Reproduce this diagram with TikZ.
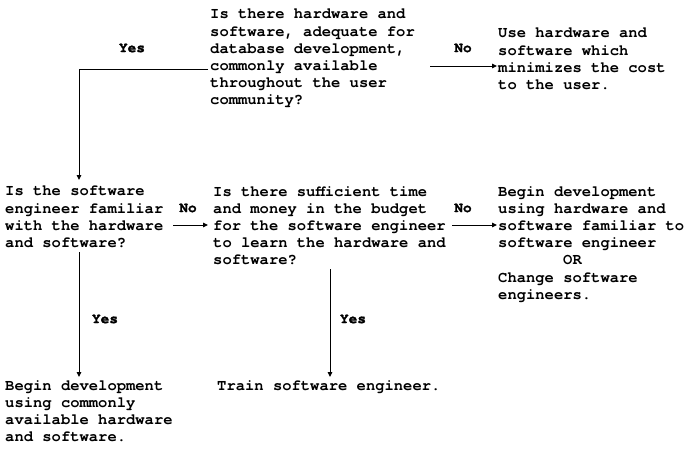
\documentclass[tikz,border=0pt]{standalone}
\usepackage{fontspec}
\usetikzlibrary{arrows.meta}
\newfontfamily\bodyfont{TeX Gyre Cursor}
\newfontfamily\labelfont{TeX Gyre Cursor}[BoldFeatures={FakeBold=1.5}]
\tikzset{
  txt/.style={anchor=north west, inner sep=0pt, align=left,
    font=\bodyfont\bfseries\fontsize{15.5}{17.2}\selectfont},
  lbl/.style={inner sep=0pt, font=\labelfont\bfseries\fontsize{14.5}{15}\selectfont},
  conn/.style={line width=1pt, -{Triangle[length=5pt,width=4.5pt]}},
}
\begin{document}
\begin{tikzpicture}[x=1pt,y=-1pt]
  \useasboundingbox (0,0) rectangle (695,453);

  % decision boxes and outcomes
  \node[txt] (q1) at (210,9) {Is there hardware and\\software, adequate for\\database development,\\commonly available\\throughout the user\\community?};
  \node[txt] (o1) at (498,28) {Use hardware and\\software which\\minimizes the cost\\to the user.};
  \node[txt] (q2) at (5,186) {Is the software\\engineer familiar\\with the hardware\\and software?};
  \node[txt] (q3) at (213,186) {Is there sufficient time\\and money in the budget\\for the software engineer\\to learn the hardware and\\software?};
  \node[txt] (o3) at (498,186) {Begin development\\using hardware and\\software familiar to\\software engineer\\\hspace*{65pt}OR\\Change software\\engineers.};
  \node[txt] (o2) at (5,380) {Begin development\\using commonly\\available hardware\\and software.};
  \node[txt] (o4) at (217,380) {Train software engineer.};

  % branch labels
  \node[lbl] (y1) at (132,48) {Yes};
  \node[lbl] (n1) at (463,48) {No};
  \node[lbl] (n2) at (188,208) {No};
  \node[lbl] (n3) at (463,208) {No};
  \node[lbl] (y2) at (105,319) {Yes};
  \node[lbl] (y3) at (353,319) {Yes};

  % connector end points
  \coordinate (q1w) at (208,69);
  \coordinate (q1e) at (430,66);
  \coordinate (o1w) at (497,66);
  \coordinate (q2n) at (79,180);
  \coordinate (q2e) at (173,225);
  \coordinate (q3w) at (208,225);
  \coordinate (q3e) at (452,225);
  \coordinate (o3w) at (497,225);
  \coordinate (q2s) at (79,252);
  \coordinate (o2n) at (79,377);
  \coordinate (q3s) at (330,269);
  \coordinate (o4n) at (330,377);

  \draw[conn] (q1w) -| (q2n);
  \draw[conn] (q1e) -- (o1w);
  \draw[conn] (q2e) -- (q3w);
  \draw[conn] (q3e) -- (o3w);
  \draw[conn] (q2s) -- (o2n);
  \draw[conn] (q3s) -- (o4n);
\end{tikzpicture}
\end{document}
